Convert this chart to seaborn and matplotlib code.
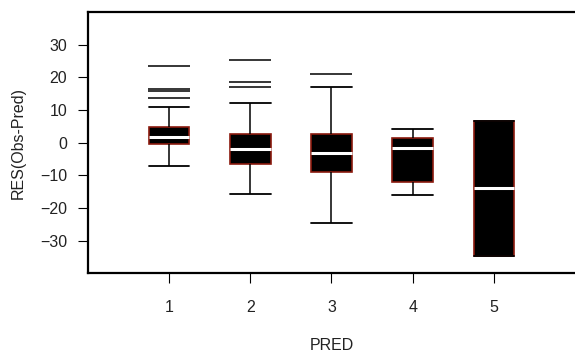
import numpy as np
import pandas as pd
import matplotlib
matplotlib.use('Agg')
import matplotlib.pyplot as plt
import seaborn as sns

# Box summaries, one entry per PRED group
PRED_GROUPS  = ['1', '2', '3', '4', '5']
WHISKER_LOW  = [-7.2, -15.8, -24.6, -16.1, -34.6]
Q1           = [-0.3, -6.4, -9.1, -12.2, -34.6]
MEDIAN       = [1.8, -2.0, -3.2, -1.5, -14.0]
Q3           = [4.9, 2.7, 2.7, 1.5, 6.5]
WHISKER_HIGH = [10.9, 12.2, 17.0, 4.3, 6.5]
OUTLIERS     = [[13.7, 15.9, 16.5, 23.6], [17.1, 18.6, 25.3], [21.0], [], []]

BOX_WIDTH = 0.5


# Build a sample whose boxplot statistics are exactly the summary above

def group_sample(lo, q1, med, q3, hi, outs):
    above = [hi] + sorted(outs)
    k = max(len(above), 2)
    top = [q3] * (k - len(above)) + above
    vals = [lo] + [q1] * k + [med] * k + [q3] * k + top
    return vals


rows = []
for i, g in enumerate(PRED_GROUPS):
    for v in group_sample(WHISKER_LOW[i], Q1[i], MEDIAN[i], Q3[i],
                          WHISKER_HIGH[i], OUTLIERS[i]):
        rows.append({'PRED': g, 'RES': v})
df = pd.DataFrame(rows)


# Plot

sns.set_style('white')
plt.rcParams['font.family'] = ['Liberation Sans', 'DejaVu Sans']

fig = plt.figure(figsize=(5.75, 3.53), dpi=100)
ax = fig.add_axes([0.153, 0.226, 0.847, 0.74])

sns.boxplot(data=df, x='PRED', y='RES', order=PRED_GROUPS, ax=ax,
            width=BOX_WIDTH, whis=1.5, linewidth=1.1,
            boxprops=dict(facecolor='black', edgecolor='#8b1a0e', linewidth=1.2),
            medianprops=dict(color='white', linewidth=2.2),
            whiskerprops=dict(color='black', linewidth=1.1),
            capprops=dict(color='black', linewidth=1.3),
            flierprops=dict(marker='_', markersize=30, markeredgecolor='black',
                            markeredgewidth=1.1))

# caps as wide as the boxes
for line in ax.lines:
    xd = np.asarray(line.get_xdata(), dtype=float)
    yd = np.asarray(line.get_ydata(), dtype=float)
    if len(xd) == 2 and yd[0] == yd[1] and abs((xd[1] - xd[0]) - BOX_WIDTH / 2) < 1e-6:
        c = xd.mean()
        line.set_xdata([c - BOX_WIDTH / 2, c + BOX_WIDTH / 2])

ax.set_xlim(-1, 5)
ax.set_ylim(-40, 40)
ax.set_yticks([-30, -20, -10, 0, 10, 20, 30])

for side in ['left', 'bottom', 'top']:
    ax.spines[side].set_visible(True)
    ax.spines[side].set_color('black')
    ax.spines[side].set_linewidth(1.6)
ax.spines['right'].set_visible(False)

ax.tick_params(axis='y', direction='out', length=7, width=0.8, pad=8,
               labelsize=11.5, left=True, colors='black', labelcolor='#222222')
ax.tick_params(axis='x', direction='out', length=7, width=0.8, pad=12,
               labelsize=11.5, bottom=True, colors='black', labelcolor='#222222')

ax.set_xlabel('PRED', fontsize=11.5, color='#222222', labelpad=17)
ax.set_ylabel('RES(Obs-Pred)', fontsize=11.5, color='#222222', labelpad=10)
ax.grid(False)

plt.savefig('out.png', dpi=100)
